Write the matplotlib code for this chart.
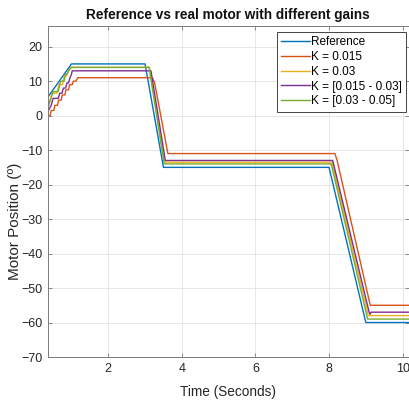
import matplotlib
matplotlib.use("Agg")
import matplotlib.pyplot as plt

plt.rcParams['font.family'] = ['Liberation Sans', 'DejaVu Sans']

labels = ["Reference", "K = 0.015", "K = 0.03", "K = [0.015 - 0.03]", "K = [0.03 - 0.05]"]
colors = ["#0072BD", "#D95319", "#EDB120", "#7E2F8E", "#77AC30"]

# Reference
t_ref = [0.36, 1.00, 3.00, 3.50, 8.00, 9.00, 10.2]
y_ref = [5.4, 15, 15, -15, -15, -60, -60]

# K = 0.015
t_k1 = [0.36, 0.42, 0.45, 0.52, 0.55, 0.62, 0.65, 0.72, 0.75, 0.82, 0.85, 0.92, 0.95,
        1.02, 1.05, 1.12, 1.17, 3.20, 3.26, 3.62, 8.16, 8.22, 9.12, 10.2]
y_k1 = [0.0, 0.0, 1.5, 1.5, 3.0, 3.0, 4.5, 4.5, 6.0, 6.0, 7.5, 7.5, 9.0,
        9.0, 10.0, 10.0, 11.0, 11.0, 9.5, -11.0, -11.0, -13.0, -55.0, -55.0]

# K = 0.03
t_k2 = [0.36, 0.48, 0.60, 0.66, 0.76, 0.80, 0.86, 0.92, 1.00, 3.12, 3.53, 8.08, 9.07, 10.2]
y_k2 = [2.8, 6.5, 6.5, 9.0, 9.0, 11.5, 11.5, 13.0, 14.0, 14.0, -13.5, -13.5, -58.0, -58.0]

# K = [0.015 - 0.03]
t_k3 = [0.36, 0.45, 0.50, 0.64, 0.68, 0.74, 0.78, 0.84, 0.88, 0.92, 0.96, 1.00, 1.02,
        3.16, 3.55, 8.10, 9.09, 9.12, 9.14, 10.2]
y_k3 = [1.2, 3.0, 5.0, 5.0, 6.5, 6.5, 8.0, 8.0, 9.5, 9.5, 11.0, 12.0, 13.0,
        13.0, -13.0, -13.0, -57.0, -57.6, -57.0, -57.0]

# K = [0.03 - 0.05]
t_k4 = [0.36, 0.50, 0.64, 0.70, 0.80, 0.84, 0.88, 0.94, 1.00, 3.11, 3.52, 8.06, 9.05, 10.2]
y_k4 = [2.2, 7.0, 7.0, 10.0, 10.0, 12.0, 12.0, 13.5, 14.0, 14.0, -14.0, -14.0, -59.0, -59.0]

series = [(t_ref, y_ref), (t_k1, y_k1), (t_k2, y_k2), (t_k3, y_k3), (t_k4, y_k4)]

xticks = [2, 4, 6, 8, 10]
yticks = [-70, -60, -50, -40, -30, -20, -10, 0, 10, 20]

fig = plt.figure(figsize=(4.09, 4.01), dpi=100)
ax = fig.add_axes([48 / 409, 1 - 357 / 401, (408.5 - 48) / 409, (357 - 26) / 401])

for (t, y), c, lab in zip(series, colors, labels):
    ax.plot(t, y, color=c, lw=1.0, label=lab)

ax.set_xlim(0.362, 10.16)
ax.set_ylim(-70, 26)
ax.set_xticks(xticks)
ax.set_yticks(yticks)
ax.grid(True, color='#e3e3e3', lw=0.6)
ax.set_axisbelow(True)
for s in ax.spines.values():
    s.set_color('#7a7a7a')
    s.set_linewidth(0.7)
ax.tick_params(direction='in', length=3, width=0.6, color='#7a7a7a',
               labelsize=9, labelcolor='#262626', top=True, right=True, pad=4)
ax.set_xlabel("Time (Seconds)", fontsize=9.8, color='#262626')
ax.set_ylabel("Motor Position (º)", fontsize=11, color='#262626')
ax.xaxis.set_label_coords(0.5, -0.085)
ax.yaxis.set_label_coords(-0.071, 0.41)
ax.set_title("Reference vs real motor with different gains", fontsize=9.8,
             fontweight='bold', color='#111111', pad=5)

leg = ax.legend(loc='upper right', bbox_to_anchor=(0.993, 0.982), borderaxespad=0,
                fontsize=8.5, handlelength=2.4, handletextpad=0.1, labelspacing=0.24,
                borderpad=0.35, fancybox=False, framealpha=1, edgecolor='#262626')
leg.get_frame().set_linewidth(0.6)

fig.savefig("out.png", dpi=100)
